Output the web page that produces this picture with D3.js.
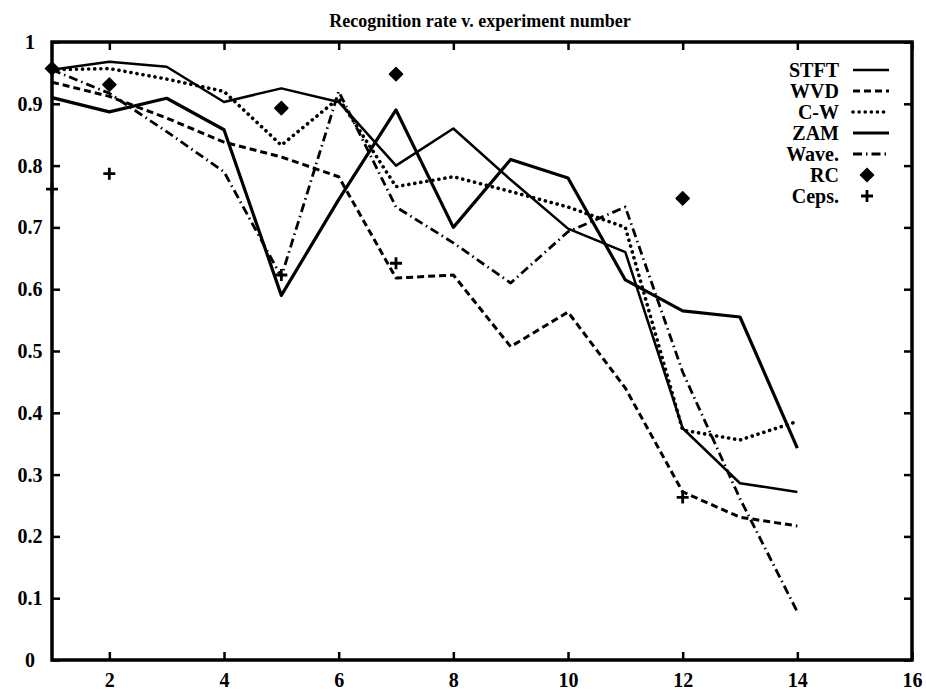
<!DOCTYPE html>
<html>
<head>
<meta charset="utf-8">
<script src="https://cdn.jsdelivr.net/npm/d3@7"></script>
<style>
  body { margin: 0; background: #fff; }
  text { font-family: "Liberation Serif", "DejaVu Serif", serif; font-weight: bold; fill: #000; }
</style>
</head>
<body>
<div id="chart"></div>
<script>
// experiment numbers
var experiments = [1, 2, 3, 4, 5, 6, 7, 8, 9, 10, 11, 12, 13, 14];

// recognition rates
var stft  = [0.955, 0.968, 0.960, 0.903, 0.925, 0.903, 0.800, 0.860, 0.777, 0.698, 0.660, 0.375, 0.286, 0.272];
var wvd   = [0.935, 0.912, 0.877, 0.838, 0.814, 0.782, 0.618, 0.623, 0.507, 0.563, 0.440, 0.272, 0.231, 0.217];
var cw    = [0.955, 0.957, 0.940, 0.920, 0.833, 0.909, 0.766, 0.782, 0.758, 0.733, 0.700, 0.372, 0.356, 0.386];
var zam   = [0.910, 0.887, 0.909, 0.858, 0.590, 0.745, 0.890, 0.700, 0.810, 0.780, 0.615, 0.565, 0.555, 0.343];
var wave  = [0.955, 0.917, 0.855, 0.790, 0.620, 0.920, 0.733, 0.675, 0.610, 0.693, 0.733, 0.466, 0.261, 0.078];

var rcX   = [1, 2, 5, 7, 12];
var rcY   = [0.957, 0.931, 0.893, 0.948, 0.747];
var cepsX = [1, 2, 5, 7, 12];
var cepsY = [0.762, 0.787, 0.623, 0.642, 0.263];

var xTicks = [2, 4, 6, 8, 10, 12, 14, 16];
var yTicks = [0, 0.1, 0.2, 0.3, 0.4, 0.5, 0.6, 0.7, 0.8, 0.9, 1];

var seriesNames = ["STFT", "WVD", "C-W", "ZAM", "Wave."];
var seriesData = [stft, wvd, cw, zam, wave];

(function () {
  var width = 926, height = 690;
  var plotLeft = 52, plotRight = 912, plotTop = 42, plotBottom = 660;

  var svg = d3.select("#chart").append("svg")
      .attr("width", width)
      .attr("height", height);

  var xScale = d3.scaleLinear().domain([1, 16]).range([plotLeft, plotRight]);
  var yScale = d3.scaleLinear().domain([0, 1]).range([plotBottom, plotTop]);

  // line styles
  var styles = {
    "STFT":  {dash: null, w: 2.5, cap: "butt"},
    "WVD":   {dash: "7,4", w: 3, cap: "butt"},
    "C-W":   {dash: "0.1,6", w: 3.6, cap: "round"},
    "ZAM":   {dash: null, w: 3.2, cap: "butt"},
    "Wave.": {dash: "9,4,1.5,4", w: 2.8, cap: "butt"}
  };

  // title
  svg.append("text")
    .attr("x", 480)
    .attr("y", 27)
    .attr("text-anchor", "middle")
    .style("font-size", "18px")
    .text("Recognition rate v. experiment number");

  // axes, ticks pointing inward
  var xAxisB = svg.append("g")
    .attr("transform", "translate(0," + plotBottom + ")")
    .call(d3.axisBottom(xScale).tickValues(xTicks).tickSizeInner(-8).tickSizeOuter(0).tickPadding(13));
  var xAxisT = svg.append("g")
    .attr("transform", "translate(0," + plotTop + ")")
    .call(d3.axisTop(xScale).tickValues(xTicks).tickSizeInner(-8).tickSizeOuter(0).tickFormat(""));
  var yAxisL = svg.append("g")
    .attr("transform", "translate(" + plotLeft + ",0)")
    .call(d3.axisLeft(yScale).tickValues(yTicks).tickSizeInner(-8).tickSizeOuter(0)
      .tickFormat(function (d) { return d === 0 ? "0" : d === 1 ? "1" : d3.format(".1f")(d); }));
  var yAxisR = svg.append("g")
    .attr("transform", "translate(" + plotRight + ",0)")
    .call(d3.axisRight(yScale).tickValues(yTicks).tickSizeInner(-8).tickSizeOuter(0).tickFormat(""));

  [xAxisB, xAxisT, yAxisL, yAxisR].forEach(function (a) {
    a.select(".domain").remove();
    a.selectAll("line").attr("stroke", "#000").attr("stroke-width", 2.5);
  });
  xAxisB.selectAll("text")
    .style("font-size", "20px")
    .style("font-family", "Liberation Serif, serif")
    .style("font-weight", "bold");
  yAxisL.selectAll("text")
    .attr("x", -22)
    .attr("text-anchor", "middle")
    .style("font-size", "20px")
    .style("font-family", "Liberation Serif, serif")
    .style("font-weight", "bold");

  // frame
  svg.append("rect")
    .attr("x", plotLeft)
    .attr("y", plotTop)
    .attr("width", plotRight - plotLeft)
    .attr("height", plotBottom - plotTop)
    .attr("fill", "none")
    .attr("stroke", "#000")
    .attr("stroke-width", 3.5);

  // lines
  var line = d3.line()
    .x(function (d, i) { return xScale(experiments[i]); })
    .y(function (d) { return yScale(d); });

  seriesNames.forEach(function (name, k) {
    var s = styles[name];
    svg.append("path")
      .datum(seriesData[k])
      .attr("d", line)
      .attr("fill", "none")
      .attr("stroke", "#000")
      .attr("stroke-width", s.w)
      .attr("stroke-linecap", s.cap)
      .attr("stroke-linejoin", "round")
      .attr("stroke-dasharray", s.dash);
  });

  // RC points: squat filled diamonds
  var diamond = "M0,-6.5L6.5,0L0,6.5L-6.5,0Z";
  svg.selectAll(".rc")
    .data(rcX)
    .enter()
    .append("path")
      .attr("class", "rc")
      .attr("d", diamond)
      .attr("transform", function (d, i) { return "translate(" + xScale(d) + "," + yScale(rcY[i]) + ")"; })
      .attr("fill", "#000")
      .attr("stroke", "#000")
      .attr("stroke-width", 1.5)
      .attr("stroke-linejoin", "round");

  // Ceps points
  function plus(g, cx, cy) {
    g.append("path")
      .attr("d", "M" + (cx - 6) + "," + cy + "H" + (cx + 6) + "M" + cx + "," + (cy - 6) + "V" + (cy + 6))
      .attr("stroke", "#000")
      .attr("stroke-width", 2.8);
  }
  cepsX.forEach(function (d, i) { plus(svg, xScale(d), yScale(cepsY[i])); });

  // legend
  var legendX = 839, legendY = 70, rowH = 21;
  var legendNames = seriesNames.concat(["RC", "Ceps."]);
  legendNames.forEach(function (name, i) {
    var cy = legendY + i * rowH;
    svg.append("text")
      .attr("x", legendX)
      .attr("y", cy + 7)
      .attr("text-anchor", "end")
      .style("font-size", "20px")
      .text(name);
    if (styles[name]) {
      var s = styles[name];
      svg.append("line")
        .attr("x1", 853).attr("x2", 889)
        .attr("y1", cy).attr("y2", cy)
        .attr("stroke", "#000")
        .attr("stroke-width", s.w)
        .attr("stroke-linecap", s.cap)
        .attr("stroke-dasharray", s.dash);
    } else if (name === "RC") {
      svg.append("path")
        .attr("d", diamond)
        .attr("transform", "translate(867," + cy + ")")
        .attr("fill", "#000")
        .attr("stroke", "#000")
        .attr("stroke-width", 1.5);
    } else {
      plus(svg, 867, cy);
    }
  });
})();
</script>
</body>
</html>
